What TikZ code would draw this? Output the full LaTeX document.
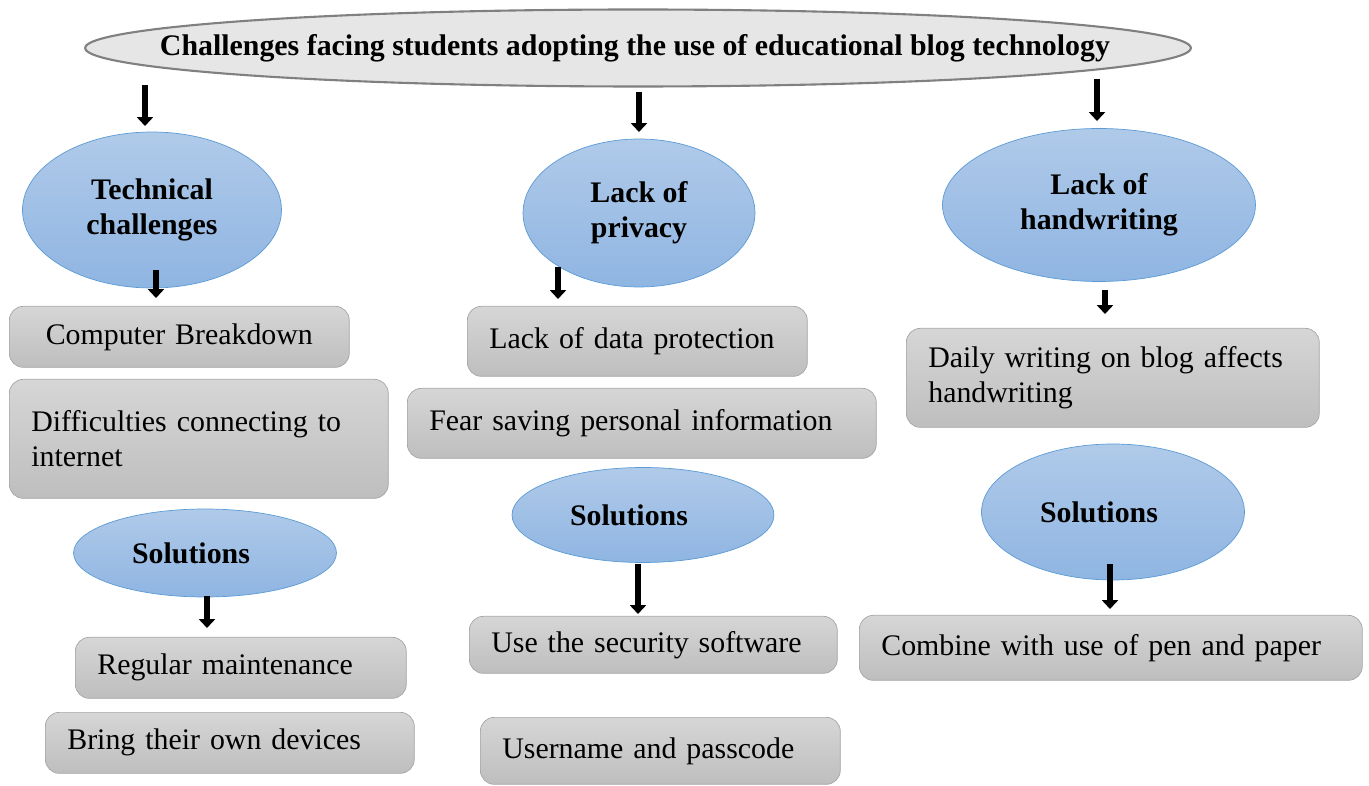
\documentclass[tikz,border=0pt]{standalone}
\usepackage{fontspec}
\setmainfont{Liberation Serif}
\usepackage{tikz}
\usetikzlibrary{arrows.meta}
\usetikzlibrary{shapes.geometric, positioning, calc}

\definecolor{bluetop}{RGB}{176,202,233}
\definecolor{bluebot}{RGB}{143,181,226}
\definecolor{blueline}{RGB}{91,155,213}
\definecolor{boxtop}{RGB}{214,214,214}
\definecolor{boxbot}{RGB}{190,190,190}
\definecolor{boxline}{RGB}{166,166,166}
\definecolor{titlefill}{RGB}{230,230,230}
\definecolor{titleline}{RGB}{128,128,128}

\newcommand{\diagfont}{\fontsize{17}{20}\selectfont}

\tikzset{
  topic/.style={ellipse, draw=blueline, top color=bluetop, bottom color=bluebot,
    inner sep=0pt, align=center, font=\diagfont\bfseries},
  issuebox/.style={draw=boxline, rounded corners=0.28cm, top color=boxtop,
    bottom color=boxbot, anchor=north west, align=left, inner xsep=0.44cm,
    font=\diagfont},
  arr/.style={line width=3.6pt, -{Triangle[width=9pt,length=5pt]}}
}

\begin{document}
\begin{tikzpicture}[x=0.02cm, y=-0.02cm]
    \useasboundingbox (0,0) rectangle (1369,786);

    % main topic
    \node[ellipse, draw=titleline, line width=1.2pt, fill=titlefill,
      minimum width=22.12cm, minimum height=1.54cm, inner sep=0pt] (top) at (638,48) {};
    \node[font=\diagfont\bfseries] (toptext) at (635,48)
      {Challenges facing students adopting the use of educational blog technology};

    % challenges
    \node[topic, minimum width=5.18cm, minimum height=3.12cm] (tech) at (152,210) {Technical\\challenges};
    \node[topic, minimum width=4.64cm, minimum height=2.96cm] (priv) at (639,213) {Lack of\\privacy};
    \node[topic, minimum width=6.26cm, minimum height=3.06cm] (hand) at (1099,205) {Lack of\\handwriting};

    % left column
    \node[issuebox, text width=6.8cm-0.88cm, minimum height=1.22cm, align=center] (breakdown) at (9,306) {Computer Breakdown};
    \node[issuebox, text width=7.58cm-0.88cm, minimum height=2.38cm] (internet) at (9,379) {Difficulties connecting to\\internet};
    \node[topic, minimum width=5.26cm, minimum height=1.76cm] (solleft) at (205,553) {Solutions\hspace*{0.56cm}};
    \node[issuebox, text width=6.62cm-0.88cm, minimum height=1.22cm] (maint) at (75,637) {Regular maintenance};
    \node[issuebox, text width=7.38cm-0.88cm, minimum height=1.22cm] (devices) at (45,712) {Bring their own devices};

    % middle column
    \node[issuebox, text width=6.8cm-0.88cm, minimum height=1.4cm] (dataprot) at (467,306) {Lack of data protection};
    \node[issuebox, text width=9.38cm-0.88cm, minimum height=1.4cm] (fear) at (407,388) {Fear saving personal information};
    \node[topic, minimum width=5.24cm, minimum height=1.9cm] (solmid) at (643,515) {Solutions\hspace*{0.56cm}};
    \node[issuebox, text width=7.36cm-0.88cm, minimum height=1.14cm] (security) at (469,616) {Use the security software};
    \node[issuebox, text width=7.2cm-0.88cm, minimum height=1.34cm] (passcode) at (480,717) {Username and passcode};

    % right column
    \node[issuebox, text width=8.26cm-0.88cm, minimum height=1.98cm] (daily) at (906,328) {Daily writing on blog affects\\handwriting};
    \node[topic, minimum width=5.26cm, minimum height=2.72cm] (solright) at (1113,512) {Solutions\hspace*{0.56cm}};
    \node[issuebox, text width=10.06cm-0.88cm, minimum height=1.3cm] (penpaper) at (859,615) {Combine with use of pen and paper};

    % arrows
    \foreach \n/\x/\ya/\yb in {1/145/85/126, 2/639/92/132, 3/1097/79/121,
        4/156/270/298, 5/558/267/299, 6/1105/290/314,
        7/207/596/628, 8/638/564/614, 9/1110/564/609} {
      \coordinate (s\n) at (\x,\ya);
      \coordinate (e\n) at (\x,\yb);
      \draw[arr] (s\n) -- (e\n);
    }
\end{tikzpicture}
\end{document}
